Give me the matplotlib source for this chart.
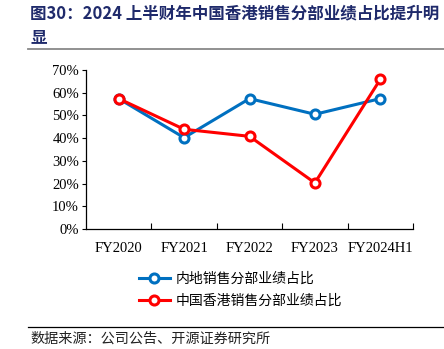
import matplotlib
matplotlib.use('Agg')
import matplotlib.pyplot as plt
from matplotlib.lines import Line2D
import numpy as np

plt.rcParams['font.family'] = ['Noto Sans CJK SC', 'DejaVu Sans']

categories = ['FY2020', 'FY2021', 'FY2022', 'FY2023', 'FY2024H1']
mainland = [57.4, 40.2, 57.4, 50.5, 57.4]
hongkong = [57.4, 43.9, 40.8, 20.3, 65.9]
yticks = [0, 10, 20, 30, 40, 50, 60, 70]

title_lines = ['图30：2024 上半财年中国香港销售分部业绩占比提升明', '显']
legend_labels = ['内地销售分部业绩占比', '中国香港销售分部业绩占比']
source = '数据来源：公司公告、开源证券研究所'

BLUE = '#0070C0'
RED = '#FF0000'
NAVY = '#1F2A6B'

fig = plt.figure(figsize=(4.44, 3.49), dpi=100)
ax = fig.add_axes([86 / 444, 1 - 229 / 349, 327 / 444, 159 / 349])

x = np.arange(len(categories))
ax.plot(x, mainland, color=BLUE, lw=2.2, marker='o', ms=6.5, mfc='white',
        mec=BLUE, mew=2.2, zorder=3)
ax.plot(x, hongkong, color=RED, lw=2.2, marker='o', ms=6.5, mfc='white',
        mec=RED, mew=2.2, zorder=4)

ax.set_xlim(-0.5, len(categories) - 0.5)
ax.set_ylim(0, 70)
ax.set_yticks(yticks)
ax.set_yticklabels([f'{v}%' for v in yticks], family='Liberation Serif', fontsize=10.5)
ax.set_xticks(x)
ax.set_xticklabels(categories, family='Liberation Serif', fontsize=10.5)
ax.tick_params(axis='x', length=0, pad=9)
ax.tick_params(axis='y', length=3, width=0.8, direction='out', pad=2)
# inward ticks at category boundaries on x axis
ax.set_xticks(np.arange(0.5, len(categories), 1.0), minor=True)
ax.tick_params(axis='x', which='minor', length=4, width=0.8, direction='in')

for s in ['top', 'right']:
    ax.spines[s].set_visible(False)
for s in ['left', 'bottom']:
    ax.spines[s].set_linewidth(0.9)

# title
fig.text(30 / 444, 1 - 13 / 349, title_lines[0], fontsize=11.9, fontweight='bold',
         color=NAVY, va='center', ha='left')
fig.text(30 / 444, 1 - 37 / 349, title_lines[1], fontsize=11.9, fontweight='bold',
         color=NAVY, va='center', ha='left')
fig.add_artist(Line2D([28 / 444, 1.0], [1 - 49 / 349] * 2, color='#888888', lw=1.3))

# legend
handles = [
    Line2D([], [], color=BLUE, lw=2.2, marker='o', ms=6.5, mfc='white', mec=BLUE, mew=2.2),
    Line2D([], [], color=RED, lw=2.2, marker='o', ms=6.5, mfc='white', mec=RED, mew=2.2),
]
fig.legend(handles, legend_labels, loc='center left', bbox_to_anchor=(126 / 444, 1 - 290 / 349),
           frameon=False, fontsize=10, handlelength=2.3, handletextpad=0.4,
           labelspacing=0.6)

# footer
fig.add_artist(Line2D([28 / 444, 1.0], [1 - 327 / 349] * 2, color='black', lw=0.9))
fig.text(30 / 444, 1 - 339 / 349, source, fontsize=10.2, color='#222222',
         va='center', ha='left')

fig.savefig('out.png', dpi=100)
